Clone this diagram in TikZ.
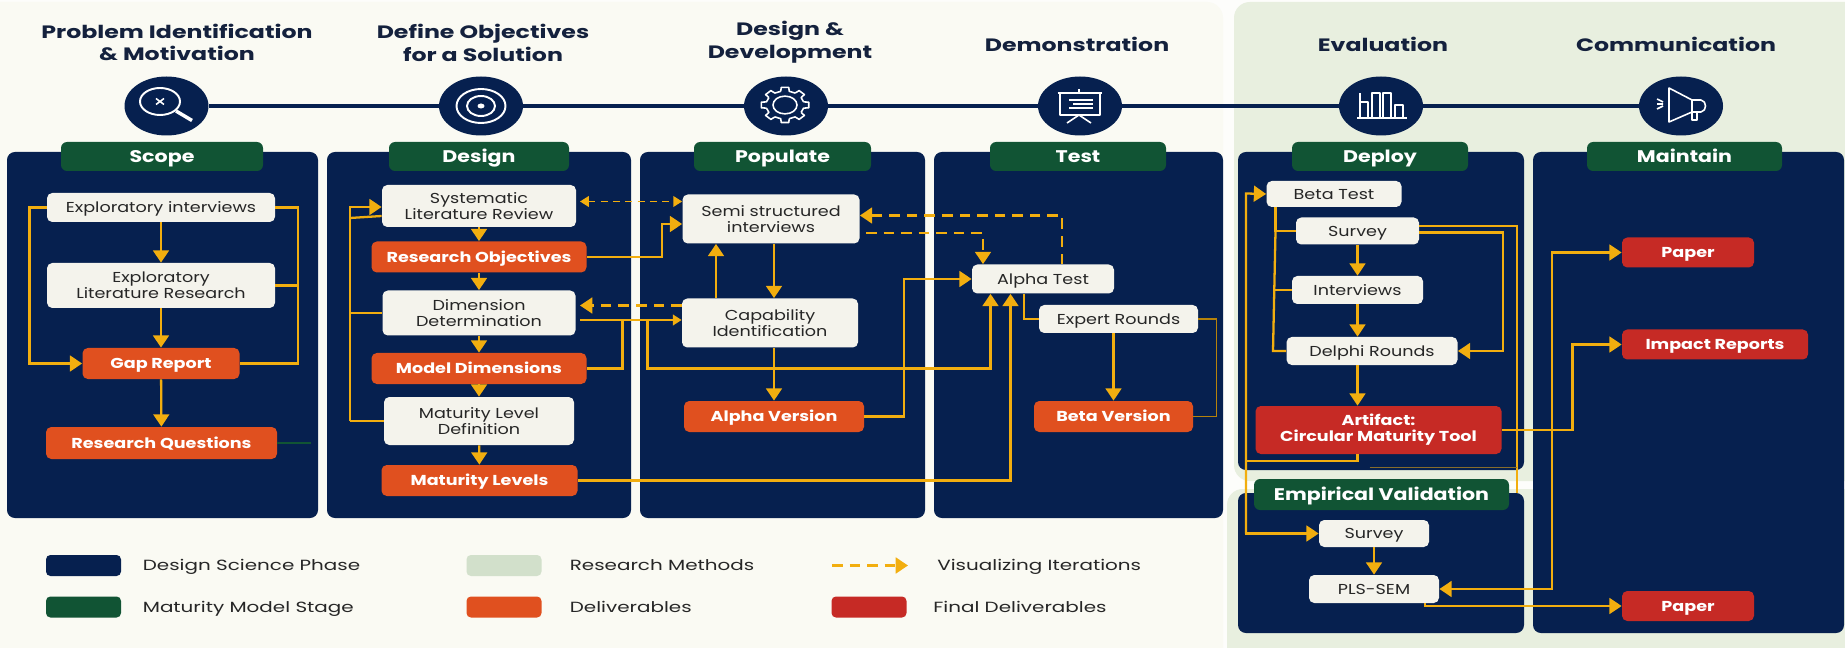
\documentclass[tikz,border=0pt]{standalone}
\usepackage{fontspec}
\setmainfont[FakeStretch=1.22]{Poppins}
\newfontfamily\titlefont[FakeStretch=1.32]{Poppins}
\newfontfamily\legendfont[FakeStretch=1.35]{Poppins}
\usetikzlibrary{arrows.meta,shapes.geometric}
\definecolor{marginbg}{HTML}{FDFDFB}
\definecolor{paperbg}{HTML}{FAFAF3}
\definecolor{methodbg}{HTML}{E8EFDF}
\definecolor{swatchgreen}{HTML}{D2E0CB}
\definecolor{navy}{HTML}{06204F}
\definecolor{stagegreen}{HTML}{115434}
\definecolor{deliver}{HTML}{E0501F}
\definecolor{finalred}{HTML}{C62A25}
\definecolor{boxwhite}{HTML}{F4F3EC}
\definecolor{gold}{HTML}{F2AE0F}
\definecolor{inkdark}{HTML}{14213D}
\tikzset{
	boxsize/.style 2 args={minimum width=#1*0.02cm, minimum height=#2*0.02cm},
	label/.style={inner sep=0pt, align=center, font=\fontsize{8.2}{9}\selectfont},
	oneline/.style={text height=7.7pt, text depth=2pt},
	title/.style={inner sep=0pt, align=center, text=inkdark, font=\titlefont\fontsize{10.2}{13}\selectfont\bfseries},
	phasepanel/.style={fill=navy, rounded corners=4.5pt},
	stagetab/.style={label, fill=stagegreen, text=white, rounded corners=3.5pt, text height=8.7pt, text depth=2pt, font=\fontsize{9.6}{11}\selectfont\bfseries},
	methodbox/.style={label, fill=boxwhite, text=black!85, rounded corners=3pt},
	delivbox/.style={label, fill=deliver, text=white, rounded corners=3pt, font=\fontsize{8.2}{9.2}\selectfont\bfseries},
	finalbox/.style={label, fill=finalred, text=white, rounded corners=3pt, font=\fontsize{8.2}{9.2}\selectfont\bfseries},
	phaseicon/.style={ellipse, fill=navy, inner sep=0pt, minimum width=84*0.02cm, minimum height=59*0.02cm},
	timeline/.style={draw=navy, line width=1.8pt},
	glyph/.style={draw=white, line width=0.9pt, line join=round},
	link/.style={draw=gold, line width=1.3pt},
	flow/.style={link, -{Triangle[length=7pt,width=9pt]}},
	iter/.style={flow, dashed, dash pattern=on 6pt off 4pt},
	itersmall/.style={link, line width=1pt, dashed, dash pattern=on 4pt off 3pt},
	swatch/.style={rounded corners=2.5pt, boxsize={75}{21}, inner sep=0pt},
	legendtext/.style={anchor=west, inner sep=0pt, text=black!85, text height=7.7pt, text depth=2pt, font=\legendfont\fontsize{8.4}{10}\selectfont},
}
\begin{document}
\begin{tikzpicture}[x=0.02cm,y=-0.02cm]
		\useasboundingbox (0,0) rectangle (1845,648);
		\fill[marginbg] (0,0) rectangle (1845,648);
		\fill[paperbg, rounded corners=9pt] (-20,2) rectangle (1223,680);
		\fill[methodbg, rounded corners=9pt] (1234,2) rectangle (1880,481);
		\fill[methodbg, rounded corners=9pt] (1227,489) rectangle (1880,680);
		\fill[phasepanel] (7,152) rectangle (318,518);
		\fill[phasepanel] (327,152) rectangle (631,518);
		\fill[phasepanel] (640,152) rectangle (925,518);
		\fill[phasepanel] (934,152) rectangle (1223,518);
		\fill[phasepanel] (1238,152) rectangle (1524,470);
		\fill[phasepanel] (1238,493) rectangle (1524,633);
		\fill[phasepanel] (1533,152) rectangle (1844,633);

		\node[title] (titleProblem) at (177,42.5) {Problem Identification\\\& Motivation};
		\node[title] (titleObjectives) at (483,42.5) {Define Objectives\\for a Solution};
		\node[title] (titleDesign) at (790,42.5) {Design \&\\Development};
		\node[title] (titleDemo) at (1077,44) {Demonstration};
		\node[title] (titleEval) at (1383,44) {Evaluation};
		\node[title] (titleComm) at (1676,44) {Communication};

		\node[phaseicon] (iconScope) at (166.5,106) {};
		\node[phaseicon] (iconTarget) at (481,106) {};
		\node[phaseicon] (iconGear) at (786,106) {};
		\node[phaseicon] (iconBoard) at (1080,106) {};
		\node[phaseicon] (iconBars) at (1381,106) {};
		\node[phaseicon] (iconHorn) at (1681,106) {};
		\foreach \from/\to in {iconScope/iconTarget,iconTarget/iconGear,iconGear/iconBoard,iconBoard/iconBars,iconBars/iconHorn}
			\draw[timeline] (\from) -- (\to);

		\draw[glyph, line width=1.1pt] (160,101.5) ellipse [x radius=20, y radius=13.5];
		\draw[glyph, line width=2pt] (176,111) -- (192,120.5);
		\draw[glyph] (156,98.5) -- (164,104.5) (156,104.5) -- (164,98.5);
		\draw[glyph, line width=1.1pt] (481,106) ellipse [x radius=24.5, y radius=17];
		\draw[glyph, line width=1.1pt] (481,106) ellipse [x radius=14, y radius=10];
		\fill[white] (481,106) ellipse [x radius=3.5, y radius=2.5];
		\begin{scope}[shift={(785,105)}, yscale=0.74]
			\draw[glyph] (0,0) circle (12);
			\foreach \ang in {0,45,...,315}
				\draw[glyph] (\ang-13:19) -- (\ang-9:24) -- (\ang+9:24) -- (\ang+13:19) -- (\ang+32:19);
		\end{scope}
		\draw[glyph] (1057.5,93) -- (1102,93) (1079,89) -- (1079,93);
		\draw[glyph] (1060,93) rectangle (1100,115);
		\draw[glyph] (1069,100) -- (1093,100) (1073,104) -- (1093,104) (1069,108) -- (1093,108);
		\draw[glyph] (1067,123) -- (1079,115) -- (1091,123);
		\draw[glyph, line width=1.1pt] (1357,118) -- (1407,118);
		\foreach \barx/\bartop in {1360/102,1372/93,1383/93,1395/105}
			\draw[glyph] (\barx,118) rectangle (\barx+8,\bartop);
		\draw[glyph] (1360,102) -- (1360,93);
		\draw[glyph] (1669,88) -- (1692,100) -- (1692,112) -- (1669,122) -- cycle;
		\draw[glyph] (1692,100) -- (1701,100) .. controls (1707,101) and (1707,111) .. (1701,112) -- (1692,112);
		\draw[glyph] (1692,112) -- (1692,120) -- (1697,120) -- (1697,112);
		\draw[glyph] (1657,99) -- (1663,102) (1657,104) -- (1663,104) (1657,109) -- (1663,106);

		\node[stagetab, boxsize={202}{29}] (tabScope) at (162,156.5) {Scope};
		\node[stagetab, boxsize={180}{29}] (tabDesign) at (479,156.5) {Design};
		\node[stagetab, boxsize={177}{29}] (tabPopulate) at (782.5,156.5) {Populate};
		\node[stagetab, boxsize={176}{29}] (tabTest) at (1078,156.5) {Test};
		\node[stagetab, boxsize={176}{29}] (tabDeploy) at (1380,156.5) {Deploy};
		\node[stagetab, boxsize={195}{29}] (tabMaintain) at (1684.5,156.5) {Maintain};
		\node[stagetab, boxsize={255}{31}] (tabValidation) at (1381.5,494.5) {Empirical Validation};

		\node[methodbox, oneline, boxsize={228}{29}] (expInterviews) at (161,207.5) {Exploratory interviews};
		\node[methodbox, boxsize={228}{45}] (expLiterature) at (161,285.5) {Exploratory\\Literature Research};
		\node[delivbox, oneline, boxsize={157}{31}] (gapReport) at (161,363.5) {Gap Report};
		\node[delivbox, oneline, boxsize={231}{32}] (researchQ) at (161.5,443) {Research Questions};
		\coordinate (faintEnd) at (311,443);

		\node[methodbox, boxsize={194}{42}] (litReview) at (479,206) {Systematic\\Literature Review};
		\node[delivbox, oneline, boxsize={215}{31}] (researchObj) at (479,257) {Research Objectives};
		\node[methodbox, boxsize={193}{45}] (dimDeterm) at (479,313) {Dimension\\Determination};
		\node[delivbox, oneline, boxsize={215}{31}] (modelDim) at (479,368.5) {Model Dimensions};
		\node[methodbox, boxsize={190}{48}] (levelDef) at (479,421) {Maturity Level\\Definition};
		\node[delivbox, oneline, boxsize={196}{31}] (levels) at (479.5,480.5) {Maturity Levels};

		\node[methodbox, boxsize={177}{49}] (semiInt) at (771,219) {Semi structured\\interviews};
		\node[methodbox, boxsize={176}{49}] (capability) at (770,323) {Capability\\Identification};
		\node[delivbox, oneline, boxsize={180}{31}] (alphaVer) at (774,416.5) {Alpha Version};

		\node[methodbox, oneline, boxsize={142}{29}] (alphaTest) at (1043,279) {Alpha Test};
		\node[methodbox, oneline, boxsize={159}{28}] (expertRounds) at (1118.5,319) {Expert Rounds};
		\node[delivbox, oneline, boxsize={159}{31}] (betaVer) at (1113.5,416.5) {Beta Version};

		\node[methodbox, oneline, boxsize={135}{26}] (betaTest) at (1334,194) {Beta Test};
		\node[methodbox, oneline, boxsize={123}{27}] (survey) at (1357.5,231) {Survey};
		\node[methodbox, oneline, boxsize={131}{28}] (interviews) at (1357.5,290) {Interviews};
		\node[methodbox, oneline, boxsize={171}{28}] (delphi) at (1372,351) {Delphi Rounds};
		\node[finalbox, boxsize={246}{48}] (artifact) at (1378.5,430) {Artifact:\\Circular Maturity Tool};
		\node[methodbox, oneline, boxsize={110}{27}] (valSurvey) at (1374,533.5) {Survey};
		\node[methodbox, oneline, boxsize={130}{28}] (plsSem) at (1374,589) {PLS-SEM};

		\node[finalbox, oneline, boxsize={132}{30}] (paperTop) at (1688,252.5) {Paper};
		\node[finalbox, oneline, boxsize={186}{30}] (impact) at (1715,344.5) {Impact Reports};
		\node[finalbox, oneline, boxsize={132}{30}] (paperBottom) at (1688,606) {Paper};

		\draw[flow] (expInterviews) -- (expLiterature);
		\draw[flow] (expLiterature) -- (gapReport);
		\draw[flow] (gapReport) -- (researchQ);
		\coordinate (scopeLeft) at (29.5,207.5);
		\coordinate (scopeRight) at (298,207.5);
		\draw[flow] (expInterviews.west) -- (scopeLeft) |- (gapReport.west);
		\draw[link] (expInterviews.east) -- (scopeRight) |- (gapReport.east);
		\draw[link] (expLiterature.east) -- (expLiterature.east -| scopeRight);
		\draw[draw=stagegreen, line width=0.6pt] (researchQ.east) -- (faintEnd);

		\draw[flow] (litReview) -- (researchObj);
		\draw[flow] (researchObj) -- (dimDeterm);
		\draw[flow] (dimDeterm) -- (modelDim);
		\draw[flow] (modelDim) -- (levelDef);
		\draw[flow] (levelDef) -- (levels);
		\coordinate (railTop) at (350,207);
		\coordinate (railBottom) at (350,421);
		\draw[flow] (railBottom) -- (railTop) -- (railTop -| litReview.west);
		\draw[link] (levelDef.west) -- (railBottom);
		\draw[link] (dimDeterm.west) -- (dimDeterm.west -| railTop);
		\draw[link] (railTop |- 0,218) -- (litReview.west |- 0,216);

		\coordinate (capIn) at (647.5,320);
		\coordinate (dimRight) at (622.5,320);
		\coordinate (dimOut) at (580,320);
		\draw[link, -{Triangle[length=5pt,width=6pt]}] (dimOut) -- (capIn) -- (capability.west |- capIn);
		\draw[link] (dimRight) |- (modelDim.east);
		\coordinate (underCap) at (990.5,368.5);
		\draw[flow] (capIn) |- (underCap) -- (underCap |- alphaTest.south);
		\coordinate (objBend) at (662,257);
		\coordinate (objIn) at (662,224);
		\draw[flow] (researchObj.east) -- (objBend) -- (objIn) -- (semiInt.west |- objIn);
		\coordinate (revLeft) at (580,201.5);
		\draw[itersmall, {Triangle[length=5pt,width=6pt]}-{Triangle[length=5pt,width=6pt]}] (revLeft) -- (semiInt.west |- revLeft);
		\coordinate (dimDash) at (580,305.5);
		\draw[iter] (capability.west |- dimDash) -- (dimDash);

		\draw[flow] (semiInt.south -| alphaVer) -- (capability.north -| alphaVer);
		\draw[flow] (capability.south -| alphaVer) -- (alphaVer);
		\coordinate (capUp) at (716,298);
		\draw[flow] (capUp) -- (capUp |- semiInt.south);
		\coordinate (alphaBend) at (904,279);
		\draw[flow] (alphaVer.east) -| (alphaBend) -- (alphaTest.west);
		\coordinate (semiOut) at (866,233);
		\coordinate (semiDown) at (983,233);
		\draw[iter] (semiOut) -- (semiDown) -- (semiDown |- alphaTest.north);
		\coordinate (testUp) at (1062,215.5);
		\draw[iter] (testUp |- alphaTest.north) -- (testUp) -- (semiInt.east |- testUp);

		\coordinate (alphaDown) at (1024,294);
		\draw[link] (alphaDown) |- (expertRounds.west);
		\draw[flow] (expertRounds.south -| betaVer) -- (betaVer);
		\coordinate (testRight) at (1216.5,416.5);
		\draw[link, line width=0.9pt, draw=gold!75!black] (betaVer.east) -- (testRight) |- (expertRounds.east);
		\coordinate (levelsUp) at (1010.5,480.5);
		\draw[flow] (levels.east) -- (levelsUp) -- (levelsUp |- alphaTest.south);

		\coordinate (leftDeploy) at (1246,193.5);
		\coordinate (leftValid) at (1246,533.5);
		\draw[flow] (leftValid) -- (leftDeploy) -- (betaTest.west);
		\draw[flow] (leftDeploy) -- (leftValid) -- (valSurvey.west);
		\coordinate (artOut) at (1357.5,454);
		\coordinate (artLeft) at (1246,461);
		\draw[link] (artOut) |- (artLeft);
		\coordinate (betaOut) at (1275.5,207);
		\coordinate (busTop) at (1275.5,231);
		\coordinate (busBottom) at (1273,351);
		\draw[link] (betaOut) -- (busTop) -- (survey.west);
		\draw[link] (busTop) -- (busBottom) -- (delphi.west);
		\draw[link] (interviews.west) -- (interviews.west -| busBottom);
		\draw[flow] (survey.south) -- (interviews);
		\draw[flow] (interviews.south) -- (interviews.south |- delphi.north);
		\draw[flow] (delphi.south -| survey) -- (artifact.north -| survey);
		\draw[flow] (valSurvey) -- (plsSem);
		\coordinate (surveyIn) at (1419,232.5);
		\coordinate (surveyRight) at (1503,232.5);
		\draw[flow] (surveyIn) -- (surveyRight) |- (delphi.east);
		\coordinate (surveyHigh) at (1419,226);
		\coordinate (surveyFar) at (1517,226);
		\coordinate (surveyEnd) at (1517,493);
		\draw[link] (surveyHigh) -- (surveyFar) -- (surveyEnd);
		\coordinate (faintDeploy) at (1369.5,467.5);
		\draw[draw=gold!55!navy, line width=0.7pt] (faintDeploy) -- (faintDeploy -| surveyFar);

		\coordinate (busImpact) at (1572.5,430);
		\coordinate (busPaper) at (1552,430);
		\draw[flow] (artifact.east) -- (busImpact) |- (impact.west);
		\draw[flow] (busPaper) -- (busPaper |- paperTop) -- (paperTop.west);
		\draw[flow] (busPaper) |- (plsSem.east);
		\coordinate (plsOut) at (1425,603);
		\draw[flow] (plsOut) |- (paperBottom.west);

		\node[swatch, fill=navy] (keyPhase) at (83.5,565.5) {};
		\node[swatch, fill=stagegreen] (keyStage) at (83.5,607) {};
		\node[swatch, fill=swatchgreen] (keyMethods) at (504,565.5) {};
		\node[swatch, fill=deliver] (keyDeliver) at (504,607) {};
		\node[swatch, fill=finalred] (keyFinal) at (869,607) {};
		\coordinate (keyDashFrom) at (832,565.5);
		\coordinate (keyDashTo) at (908,565.5);
		\draw[iter] (keyDashFrom) -- (keyDashTo);
		\node[legendtext] (textPhase) at (142.5,565.5) {Design Science Phase};
		\node[legendtext] (textStage) at (142.5,607) {Maturity Model Stage};
		\node[legendtext] (textMethods) at (569.5,565.5) {Research Methods};
		\node[legendtext] (textDeliver) at (569.5,607) {Deliverables};
		\node[legendtext] (textIter) at (937,565.5) {Visualizing Iterations};
		\node[legendtext] (textFinal) at (933,607) {Final Deliverables};
	\end{tikzpicture}
\end{document}
